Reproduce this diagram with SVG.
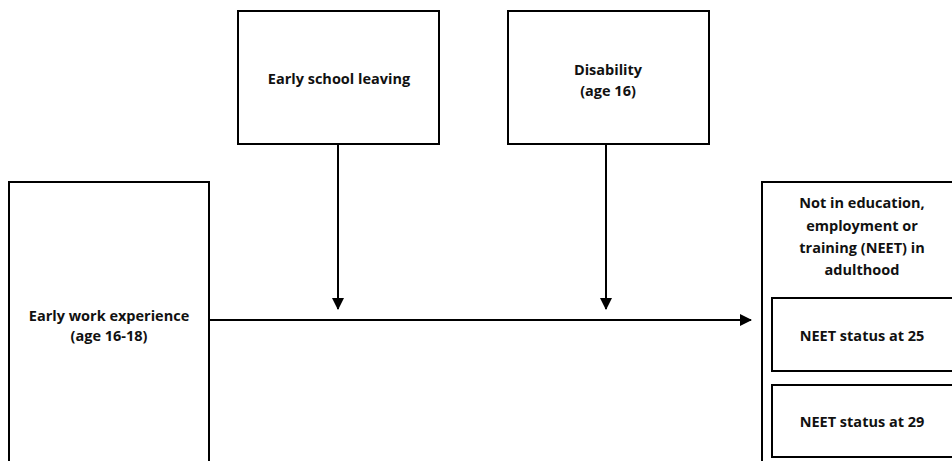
<svg xmlns="http://www.w3.org/2000/svg" width="952" height="461" viewBox="0 0 952 461">
<style>
.box{fill:#fff;stroke:#000;stroke-width:2}
.t{font-family:"Open Sans","Liberation Sans",sans-serif;font-weight:bold;font-size:14.5px;fill:#111;text-anchor:middle}
.c{stroke:#000;stroke-width:2;fill:none}
</style>
<defs>
<marker id="ah" markerWidth="12" markerHeight="12" refX="11" refY="6" orient="auto" markerUnits="userSpaceOnUse" viewBox="0 0 12 12">
<path d="M0,0 L12,6 L0,12 z" fill="#000"/>
</marker>
</defs>
<rect width="952" height="461" fill="#fff"/>
<g id="early-work">
<rect class="box" x="9" y="182" width="200" height="290"/>
<text class="t" x="109" y="321">Early work experience</text>
<text class="t" x="109" y="341">(age 16-18)</text>
</g>
<g id="early-school">
<rect class="box" x="238" y="11" width="201" height="133"/>
<text class="t" x="339" y="84">Early school leaving</text>
</g>
<g id="disability">
<rect class="box" x="508" y="11" width="201" height="133"/>
<text class="t" x="608" y="75">Disability</text>
<text class="t" x="608" y="96">(age 16)</text>
</g>
<g id="neet">
<rect class="box" x="762" y="182" width="200" height="290"/>
<text class="t" x="862" y="208">Not in education,</text>
<text class="t" x="862" y="231">employment or</text>
<text class="t" x="862" y="253">training (NEET) in</text>
<text class="t" x="862" y="275">adulthood</text>
</g>
<g id="neet25">
<rect class="box" x="772" y="298" width="190" height="73"/>
<text class="t" x="862" y="341">NEET status at 25</text>
</g>
<g id="neet29">
<rect class="box" x="772" y="385" width="190" height="72"/>
<text class="t" x="862" y="427">NEET status at 29</text>
</g>
<g id="connectors">
<line class="c" x1="209" y1="320" x2="751" y2="320" marker-end="url(#ah)"/>
<line class="c" x1="338" y1="144" x2="338" y2="309" marker-end="url(#ah)"/>
<line class="c" x1="606" y1="144" x2="606" y2="309" marker-end="url(#ah)"/>
</g>
</svg>
